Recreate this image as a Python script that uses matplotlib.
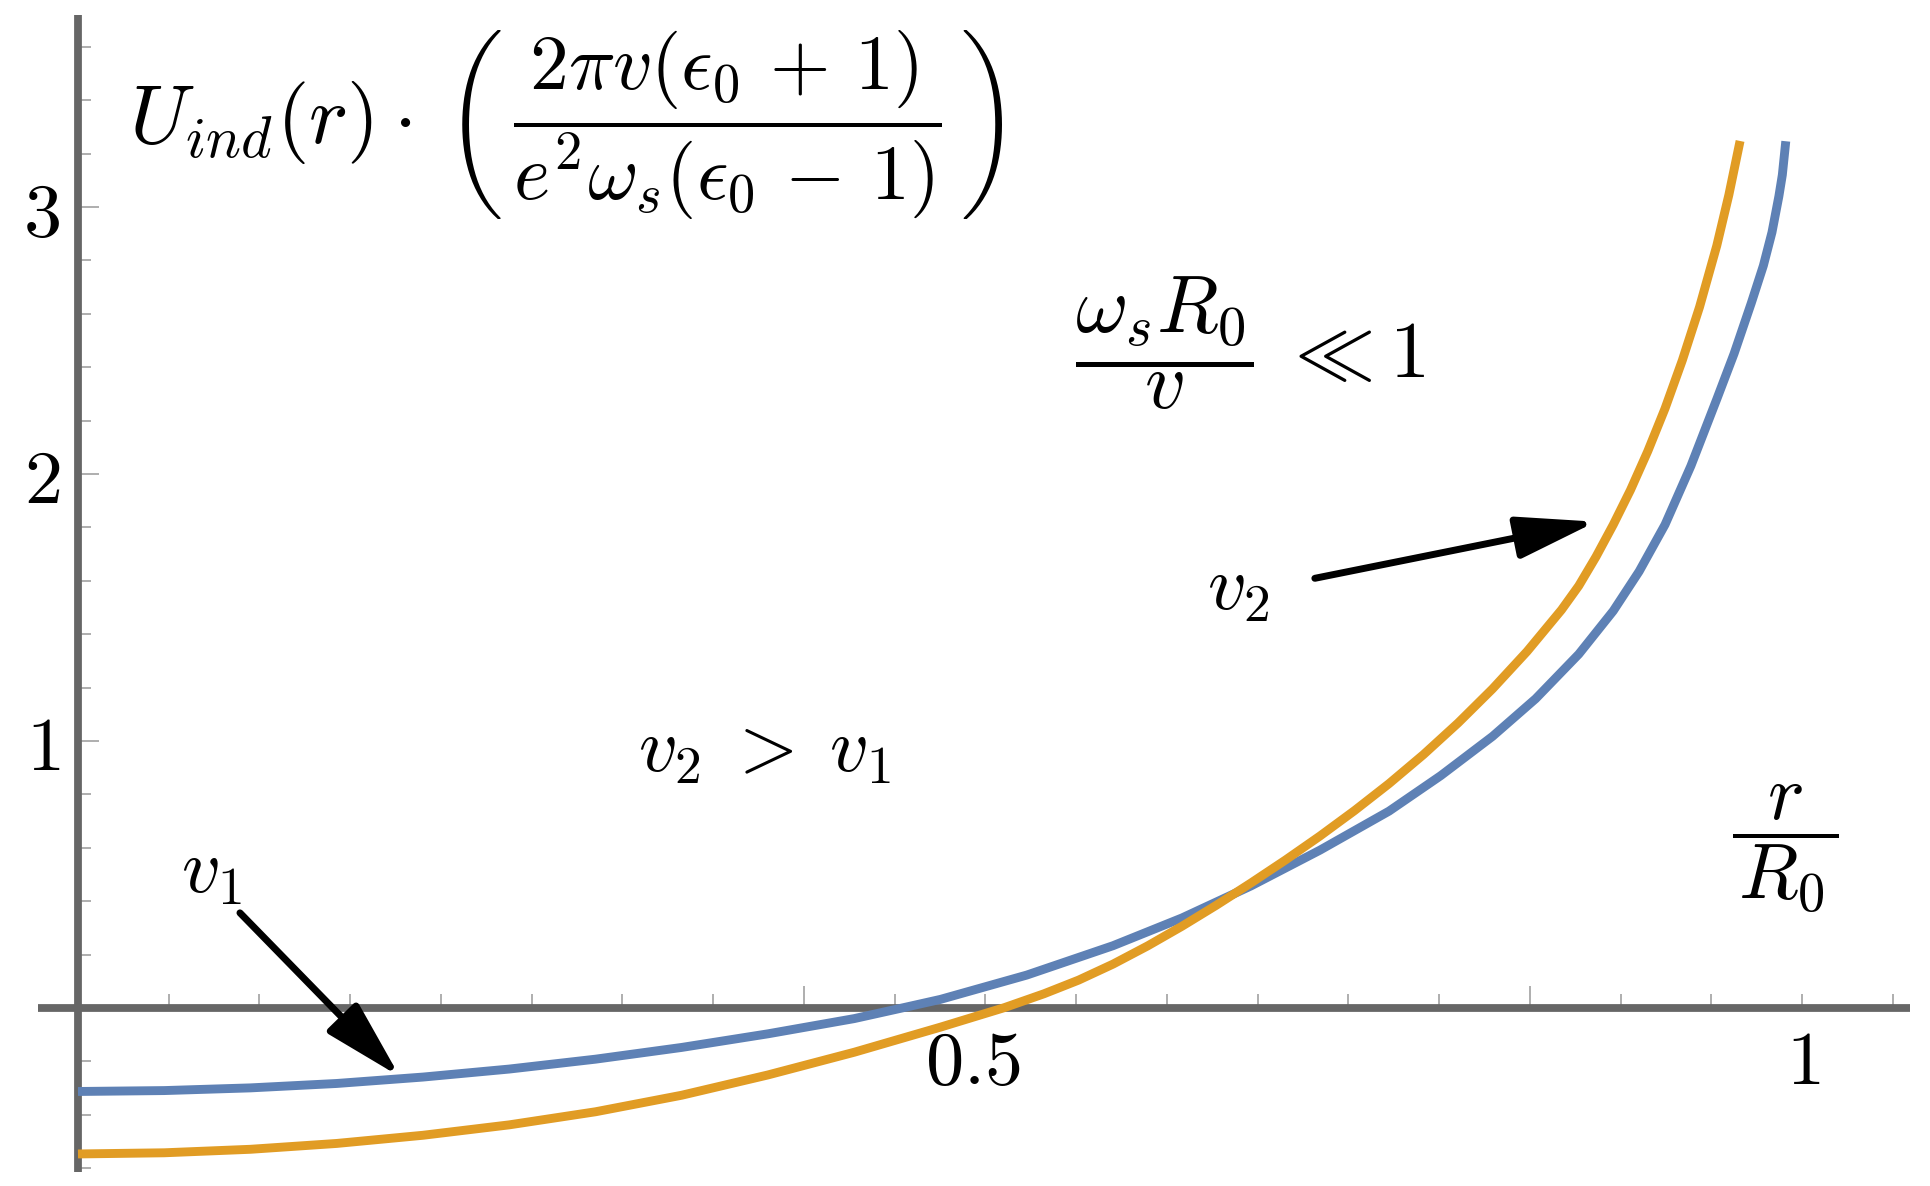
import numpy as np
import matplotlib
matplotlib.use("Agg")
import matplotlib.pyplot as plt

plt.rcParams['mathtext.fontset'] = 'cm'
plt.rcParams['font.family'] = ['DejaVu Serif']

# ---- data (x = r/R0) ----
r_v1 = [0.00, 0.05, 0.10, 0.15, 0.20, 0.25, 0.30, 0.35, 0.40, 0.45, 0.48, 0.50,
        0.55, 0.60, 0.64, 0.68, 0.72, 0.76, 0.79, 0.82, 0.845, 0.87, 0.89, 0.905,
        0.92, 0.935, 0.95, 0.96, 0.97, 0.977, 0.982, 0.986, 0.988, 0.990]
u_v1 = [-0.313, -0.3096, -0.2995, -0.283, -0.259, -0.229, -0.192, -0.148, -0.097,
        -0.040, 0.003, 0.032, 0.123, 0.233, 0.337, 0.457, 0.591, 0.737, 0.870,
        1.017, 1.158, 1.325, 1.487, 1.635, 1.810, 2.030, 2.280, 2.450, 2.640,
        2.780, 2.905, 3.040, 3.120, 3.246]

r_v2 = [0.00, 0.05, 0.10, 0.15, 0.20, 0.25, 0.30, 0.35, 0.40, 0.45, 0.50, 0.537,
        0.56, 0.58, 0.60, 0.62, 0.64, 0.66, 0.68, 0.70, 0.72, 0.74, 0.76, 0.78,
        0.80, 0.82, 0.84, 0.86, 0.87, 0.88, 0.89, 0.90, 0.91, 0.92, 0.93, 0.94,
        0.95, 0.957, 0.9635]
u_v2 = [-0.547, -0.5426, -0.5295, -0.5076, -0.477, -0.438, -0.389, -0.327, -0.251,
        -0.166, -0.072, 0.001, 0.053, 0.104, 0.164, 0.232, 0.306, 0.385, 0.468,
        0.554, 0.644, 0.739, 0.840, 0.949, 1.067, 1.195, 1.335, 1.491, 1.581,
        1.690, 1.810, 1.940, 2.085, 2.245, 2.425, 2.625, 2.855, 3.045, 3.247]

y_major = [1, 2, 3]
y_major_labels = ['$1$', '$2$', '$3$']
y_minor = [-0.6, -0.4, -0.2, 0.2, 0.4, 0.6, 0.8, 1.2, 1.4, 1.6, 1.8, 2.2, 2.4,
           2.6, 2.8, 3.2, 3.4, 3.6]
x_tick_step = 0.0526
x_major_idx = [8, 16]
x_minor_idx = [k for k in range(1, 21) if k not in x_major_idx]
x_labels = ['$0.5$', '$1$']
x_label_pos = [0.519, 1.0]

BLUE = '#5E81B5'
ORANGE = '#E19C24'
AXC = '#666666'

fig = plt.figure(figsize=(19.30, 11.86), dpi=100)
ax = fig.add_axes([0, 0, 1, 1])
ax.set_xlim(-0.0452, 1.0736)
ax.set_ylim(-0.667, 3.775)

ax.plot(r_v1, u_v1, color=BLUE, lw=6.4, zorder=3, solid_capstyle='butt',
        solid_joinstyle='round')
ax.plot(r_v2, u_v2, color=ORANGE, lw=6.4, zorder=3, solid_capstyle='butt',
        solid_joinstyle='round')

for s in ['top', 'right']:
    ax.spines[s].set_visible(False)
ax.spines['left'].set_position(('data', 0))
ax.spines['bottom'].set_position(('data', 0))
ax.spines['left'].set_bounds(-0.614, 3.72)
ax.spines['bottom'].set_bounds(-0.023, 1.062)
for s in ['left', 'bottom']:
    ax.spines[s].set_color(AXC)
    ax.spines[s].set_linewidth(5.6)
    ax.spines[s].set_capstyle('butt')

ax.set_yticks(y_major)
ax.set_yticklabels(y_major_labels)
ax.set_yticks(y_minor, minor=True)
ax.set_xticks([k * x_tick_step for k in x_major_idx])
ax.set_xticklabels([])
ax.set_xticks([k * x_tick_step for k in x_minor_idx], minor=True)

ax.tick_params(axis='y', which='major', direction='in', length=15, width=1.1,
               color='#999999', labelsize=55, pad=13)
ax.tick_params(axis='y', which='minor', direction='in', length=9.4, width=1.1,
               color='#999999')
ax.tick_params(axis='x', which='major', direction='in', length=16, width=1.1,
               color='#999999')
ax.tick_params(axis='x', which='minor', direction='in', length=10, width=1.1,
               color='#999999')

for lab, xp in zip(x_labels, x_label_pos):
    ax.text(xp, -0.205, lab, ha='center', va='center', fontsize=55)

ax.text(0.0296, 3.317, r'$U_{ind}(r)\cdot$', ha='left', va='center', fontsize=60)
ax.text(0.2128, 3.305,
        r'$\left(\,\dfrac{2\pi v(\epsilon_0\,+\,1)}{e^2\omega_s(\epsilon_0\,-\,1)}\,\right)$',
        ha='left', va='center', fontsize=56)
ax.text(0.5777, 2.489, r'$\dfrac{\omega_s R_0}{v}\;\ll 1$', ha='left', va='center',
        fontsize=58)
ax.text(0.6725, 1.573, r'$v_2$', ha='center', va='center', fontsize=55)
ax.text(0.398, 0.966, r'$v_2\;>\;v_1$', ha='center', va='center', fontsize=55)
ax.text(0.0777, 0.511, r'$v_1$', ha='center', va='center', fontsize=55)
ax.text(0.9896, 0.595, r'$\dfrac{r}{\hspace{0.1}R_0\hspace{0.1}}$', ha='center',
        va='center', fontsize=56)

arrow_kw = dict(arrowstyle='-|>,head_length=1.35,head_width=0.36', color='black',
                lw=5, mutation_scale=36, shrinkA=0, shrinkB=0)
ax.annotate('', xy=(0.880, 1.821), xytext=(0.717, 1.609), arrowprops=arrow_kw)
ax.annotate('', xy=(0.1865, -0.257), xytext=(0.0939, 0.356), arrowprops=arrow_kw)

fig.savefig('out.png', dpi=100)
